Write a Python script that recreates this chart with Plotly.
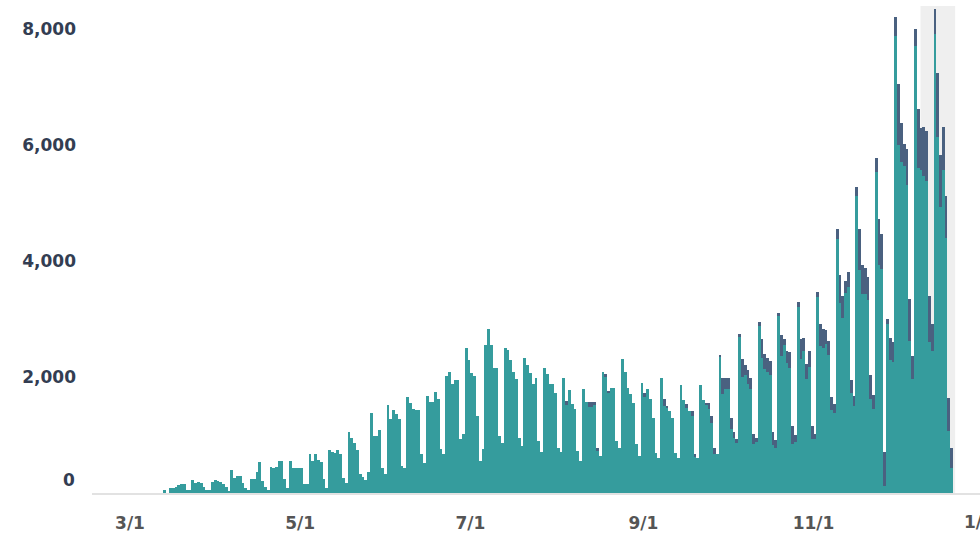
import datetime as dt
import plotly.graph_objects as go

# ---- data (daily cases) ----
total_start = dt.date(2020, 3, 13)
total_mar = [50, 0, 85, 85, 100, 130, 160, 160, 50, 50, 220, 170, 190, 170, 110, 50, 50, 190]
total_apr = [220, 200, 190, 150, 110, 40, 400, 260, 290, 290, 180, 90, 60, 250, 250, 360, 540, 200,
             110, 60, 440, 430, 440, 560, 560, 250, 92, 550, 437, 437]
total_may = [437, 437, 150, 150, 680, 550, 680, 570, 530, 235, 92, 740, 700, 685, 740, 680, 264, 178,
             1057, 943, 856, 740, 322, 270, 224, 362, 1374, 983, 983, 1086, 437]
total_jun = [322, 1511, 1270, 1431, 1356, 1270, 465, 437, 1650, 1557, 1443, 1425, 1425, 667, 523,
             1672, 1575, 1575, 1740, 1620, 753, 667, 2017, 2092, 1874, 1943, 1943, 925, 1023, 2506]
total_jul = [2287, 2063, 2017, 1328, 552, 753, 2546, 2822, 2546, 2149, 2149, 983, 856, 2494, 2460,
             2287, 2092, 1960, 954, 810, 2322, 2200, 2063, 1874, 1977, 897, 707, 2161, 2046, 1874, 1874]
total_aug = [1730, 782, 707, 1977, 1586, 1776, 1529, 1443, 724, 552, 1787, 1575, 1575, 1575, 1575,
             782, 638, 2092, 2046, 1759, 1816, 1816, 897, 782, 2305, 2092, 1816, 1700, 1557, 851, 638]
total_sep = [1891, 1730, 1787, 1615, 1299, 684, 609, 1989, 1615, 1500, 1414, 1299, 684, 609, 1862,
             1603, 1529, 1414, 1414, 667, 609, 1862, 1603, 1557, 1557, 1328, 782, 667, 2379, 1989]
total_oct = [1989, 1989, 1300, 1057, 925, 2747, 2305, 2200, 2115, 1989, 1023, 954, 2950, 2649, 2391,
             2333, 2276, 1057, 908, 3098, 2724, 2649, 2448, 2437, 1155, 994, 3299, 2649, 2678, 2230, 2448]
total_nov = [1155, 1011, 3471, 2920, 2822, 2805, 2621, 1655, 1529, 4546, 3759, 3397, 3655, 3816, 1943,
             1672, 5276, 4546, 3925, 3874, 3724, 2029, 1684, 5782, 4724, 4465, 700, 3000, 2672, 2600]
total_dec = [8207, 7052, 6380, 6017, 5931, 3345, 2362, 8000, 6620, 6293, 6310, 6241, 3397, 2914,
             8345, 7241, 5828, 6310, 5121, 1638, 776]

# top (dark) part of each bar, from Aug 1
probable_start = dt.date(2020, 8, 1)
probable_aug = [0, 0, 0, 75, 0, 0, 0, 0, 0, 0, 0, 86, 86, 60, 60, 0, 0, 46, 30, 0, 0, 0, 0, 0, 0, 0,
                0, 0, 0, 0, 0]
probable_sep = [75, 0, 0, 0, 0, 0, 0, 115, 40, 0, 0, 0, 0, 0, 0, 60, 0, 86, 40, 0, 0, 0, 40, 115, 115,
                115, 0, 40, 276, 200]
probable_oct = [200, 200, 104, 60, 50, 300, 172, 230, 200, 170, 70, 70, 316, 260, 250, 240, 230, 130,
                46, 360, 92, 200, 276, 305, 115, 98, 333, 230, 260, 270, 230]
probable_nov = [86, 86, 380, 328, 230, 240, 218, 155, 161, 490, 380, 200, 260, 218, 172, 155, 700, 489,
                443, 391, 414, 230, 241, 788, 604, 575, 90, 374, 345, 330]
probable_dec = [1046, 673, 374, 615, 719, 402, 288, 1006, 719, 834, 862, 794, 460, 431, 1092, 903, 736,
                730, 575, 345, 259]

tick_dates = ["2020-03-01", "2020-05-01", "2020-07-01", "2020-09-01", "2020-11-01"]
tick_text = ["3/1", "5/1", "7/1", "9/1", "11/1"]
edge_tick_date = "2021-01-01"
edge_tick_text = "1/1"
y_ticks = [2000, 4000, 6000, 8000]
y_text = ["2,000", "4,000", "6,000", "8,000"]
shade_start = "2020-12-09 08:00"
shade_end = "2020-12-21 18:00"
x_range = ["2020-02-16 09:00", "2020-12-30 16:00"]
y_range = [0, 8400]

# ---- build series ----
totals = (total_mar + total_apr + total_may + total_jun + total_jul + total_aug + total_sep +
          total_oct + total_nov + total_dec)
probable = probable_aug + probable_sep + probable_oct + probable_nov + probable_dec
# each daily bar is centred on the middle of its day
dates = [dt.datetime.combine(total_start, dt.time(12)) + dt.timedelta(days=i) for i in range(len(totals))]
offset = (probable_start - total_start).days
prob_full = [0] * offset + probable
confirmed = [t - p for t, p in zip(totals, prob_full)]

TEAL = "#359c9d"
NAVY = "#4a6180"
FONT = "DejaVu Sans"

fig = go.Figure()
fig.add_bar(x=dates, y=confirmed, marker=dict(color=TEAL, line=dict(width=0)), name="Confirmed")
fig.add_bar(x=dates, y=prob_full, marker=dict(color=NAVY, line=dict(width=0)), name="Probable")

fig.add_shape(type="rect", xref="x", yref="paper", x0=shade_start, x1=shade_end, y0=0, y1=1,
              fillcolor="#efefef", line=dict(width=0), layer="below")

# 0 label sits a little above the baseline
fig.add_annotation(text="0", xref="paper", yref="y", x=0, y=0, xanchor="right", yanchor="middle",
                   xshift=-15, yshift=13, showarrow=False,
                   font=dict(family=FONT, size=17, color="#333d52", weight="bold"))

# the 1/1 label at the clipped right edge
r0 = dt.datetime.fromisoformat(x_range[0])
r1 = dt.datetime.fromisoformat(x_range[1])
e = dt.datetime.fromisoformat(edge_tick_date)
fig.add_annotation(text=edge_tick_text, xref="paper", yref="paper",
                   x=(e - r0).total_seconds() / (r1 - r0).total_seconds(), y=0,
                   xanchor="center", yanchor="top", xshift=-5, yshift=-17, showarrow=False,
                   font=dict(family=FONT, size=17, color="#555555", weight="bold"))

fig.update_layout(
    width=980, height=536,
    margin=dict(l=92, r=0, t=6, b=43),
    barmode="stack", bargap=0,
    plot_bgcolor="white", paper_bgcolor="white",
    showlegend=False,
    xaxis=dict(type="date", range=x_range, tickvals=tick_dates, ticktext=tick_text,
               showgrid=False, zeroline=False, showline=True, linecolor="#e2e2e2", linewidth=2,
               ticks="", ticklabelstandoff=14,
               tickfont=dict(family=FONT, size=17, color="#555555", weight="bold")),
    yaxis=dict(range=y_range, tickvals=y_ticks, ticktext=y_text, showgrid=False, zeroline=False,
               showline=False, ticks="", ticklabelstandoff=15,
               tickfont=dict(family=FONT, size=17, color="#333d52", weight="bold")),
)

fig.write_html("out.html", config={"displayModeBar": False},
               post_script="document.body.style.margin='0';document.body.style.overflow='hidden';")
